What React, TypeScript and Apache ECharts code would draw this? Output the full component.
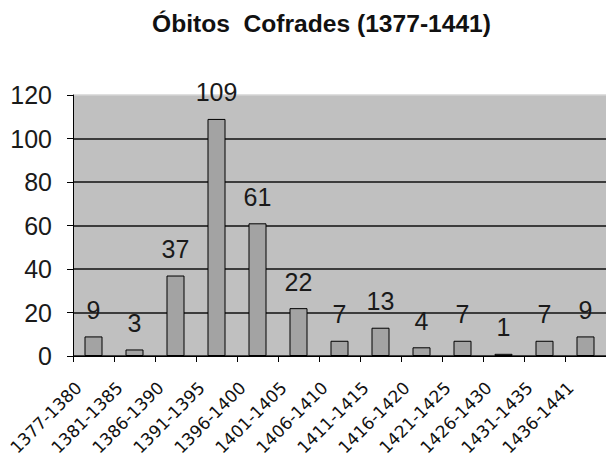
import React, { useEffect, useRef } from "react";
import * as echarts from "echarts";

const titleText = "Óbitos  Cofrades (1377-1441)";
const categories = [
  "1377-1380", "1381-1385", "1386-1390", "1391-1395", "1396-1400", "1401-1405",
  "1406-1410", "1411-1415", "1416-1420", "1421-1425", "1426-1430", "1431-1435", "1436-1441",
];
const deaths = [9, 3, 37, 109, 61, 22, 7, 13, 4, 7, 1, 7, 9];
const yMin = 0;
const yMax = 120;
const yStep = 20;

const FONT = "'Liberation Sans', Arial, sans-serif";
const XFONT = "'DejaVu Sans', Verdana, sans-serif";

export default function App() {
  const ref = useRef<HTMLDivElement>(null);
  useEffect(() => {
    if (!ref.current) return;
    const chart = echarts.init(ref.current, undefined, { renderer: "svg" });
    chart.setOption({
      animation: false,
      backgroundColor: "#ffffff",
      title: {
        text: titleText,
        left: 147,
        top: 6,
        textStyle: { fontFamily: FONT, fontWeight: "bold", fontSize: 24.6, color: "#111" },
      },
      grid: {
        left: 73,
        right: -13,
        top: 95,
        bottom: 106,
        show: true,
        backgroundColor: "#c0c0c0",
        borderWidth: 0,
      },
      xAxis: {
        type: "category",
        data: categories,
        boundaryGap: true,
        axisLine: { show: true, lineStyle: { color: "#000", width: 1 } },
        axisTick: { show: true, length: 6, alignWithLabel: false, lineStyle: { color: "#000" } },
        axisLabel: {
          interval: 0,
          rotate: 45,
          margin: 14,
          padding: [0, 21, 0, 0],
          fontFamily: XFONT,
          fontSize: 17,
          color: "#111",
        },
        splitLine: { show: false },
      },
      yAxis: {
        type: "value",
        min: yMin,
        max: yMax,
        interval: yStep,
        axisLine: { show: true, lineStyle: { color: "#000", width: 1 } },
        axisTick: { show: true, length: 6, lineStyle: { color: "#000" } },
        axisLabel: { margin: 21, fontFamily: FONT, fontSize: 25, color: "#1a1a1a" },
        splitLine: {
          show: true,
          lineStyle: {
            color: ["#111", "#111", "#111", "#111", "#111", "#111", "#d4d4d4"],
            width: 1.5,
          },
        },
      },
      series: [
        {
          type: "bar",
          data: deaths,
          barWidth: 18,
          itemStyle: { color: "#a3a3a3", borderColor: "#000", borderWidth: 1 },
          label: {
            show: true,
            position: "top",
            distance: 14,
            fontFamily: FONT,
            fontSize: 25,
            color: "#1a1a1a",
          },
        },
      ],
    });
    return () => chart.dispose();
  }, []);
  return (
    <div
      ref={ref}
      style={{ position: "fixed", left: 0, top: 0, width: 606, height: 462 }}
    />
  );
}
